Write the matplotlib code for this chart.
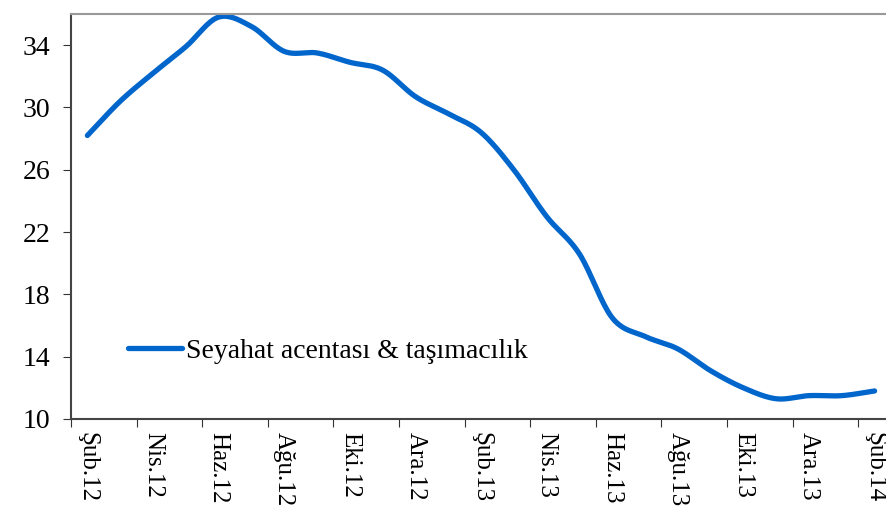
import numpy as np
import matplotlib
matplotlib.use("Agg")
import matplotlib.pyplot as plt
from matplotlib.lines import Line2D

months = ["Şub.12", "Mar.12", "Nis.12", "May.12", "Haz.12", "Tem.12", "Ağu.12", "Eyl.12",
          "Eki.12", "Kas.12", "Ara.12", "Oca.13", "Şub.13", "Mar.13", "Nis.13", "May.13",
          "Haz.13", "Tem.13", "Ağu.13", "Eyl.13", "Eki.13", "Kas.13", "Ara.13", "Oca.14", "Şub.14"]
values = [28.2, 30.4, 32.2, 33.9, 35.8, 35.2, 33.6, 33.5, 32.9, 32.4, 30.7, 29.6, 28.4,
          26.0, 23.0, 20.6, 16.5, 15.3, 14.5, 13.1, 12.0, 11.3, 11.5, 11.5, 11.8]
series_name = "Seyahat acentası & taşımacılık"
yticks = [10, 14, 18, 22, 26, 30, 34]

plt.rcParams['font.family'] = ['Liberation Serif', 'DejaVu Serif']

def catmull_rom(x, y, n=20):
    x = np.asarray(x, float); y = np.asarray(y, float)
    px = np.concatenate([[2*x[0]-x[1]], x, [2*x[-1]-x[-2]]])
    py = np.concatenate([[2*y[0]-y[1]], y, [2*y[-1]-y[-2]]])
    xs, ys = [], []
    t = np.linspace(0, 1, n, endpoint=False)
    for i in range(1, len(px)-2):
        p0, p1, p2, p3 = [np.array([px[j], py[j]]) for j in (i-1, i, i+1, i+2)]
        for tt in t:
            pt = 0.5*((2*p1) + (-p0+p2)*tt + (2*p0-5*p1+4*p2-p3)*tt**2 + (-p0+3*p1-3*p2+p3)*tt**3)
            xs.append(pt[0]); ys.append(pt[1])
    xs.append(x[-1]); ys.append(y[-1])
    return np.array(xs), np.array(ys)

fig = plt.figure(figsize=(8.87, 5.09), dpi=100)
ax = fig.add_axes([71/887, 90/509, 820/887, 405/509])

xi = np.arange(len(values))
sx, sy = catmull_rom(xi, values)
ax.plot(sx, sy, color='#0066CC', lw=3.8, solid_capstyle='round')

ax.set_xlim(-0.5, 24.5)
ax.set_ylim(10, 36)
ax.set_yticks(yticks)
ax.set_yticklabels([str(v) for v in yticks], fontsize=20)

ax.set_xticks(np.arange(-0.5, 25, 2))
ax.set_xticklabels([])
ax.set_xticks(xi[::2], minor=True)
ax.set_xticklabels(months[::2], minor=True, rotation=-90, fontsize=18)
ax.tick_params(axis='x', which='minor', length=0, pad=9)
ax.tick_params(axis='x', which='major', length=6, direction='out', color='#333333')
ax.tick_params(axis='y', length=6, direction='out', color='#333333', pad=9)

for s in ['left', 'bottom']:
    ax.spines[s].set_color('#444444'); ax.spines[s].set_linewidth(1.5)
ax.spines['top'].set_color('#999999'); ax.spines['top'].set_linewidth(1.5)
ax.spines['right'].set_visible(False)

handle = Line2D([], [], color='#0066CC', lw=3.8, solid_capstyle='round')
leg = ax.legend([handle], [series_name], loc='center left',
                bbox_to_anchor=(0.0695, (419-351)/405),
                frameon=False, fontsize=20, handlelength=1.94, handletextpad=0.14,
                borderaxespad=0, borderpad=0)

fig.savefig('out.png', dpi=100)
